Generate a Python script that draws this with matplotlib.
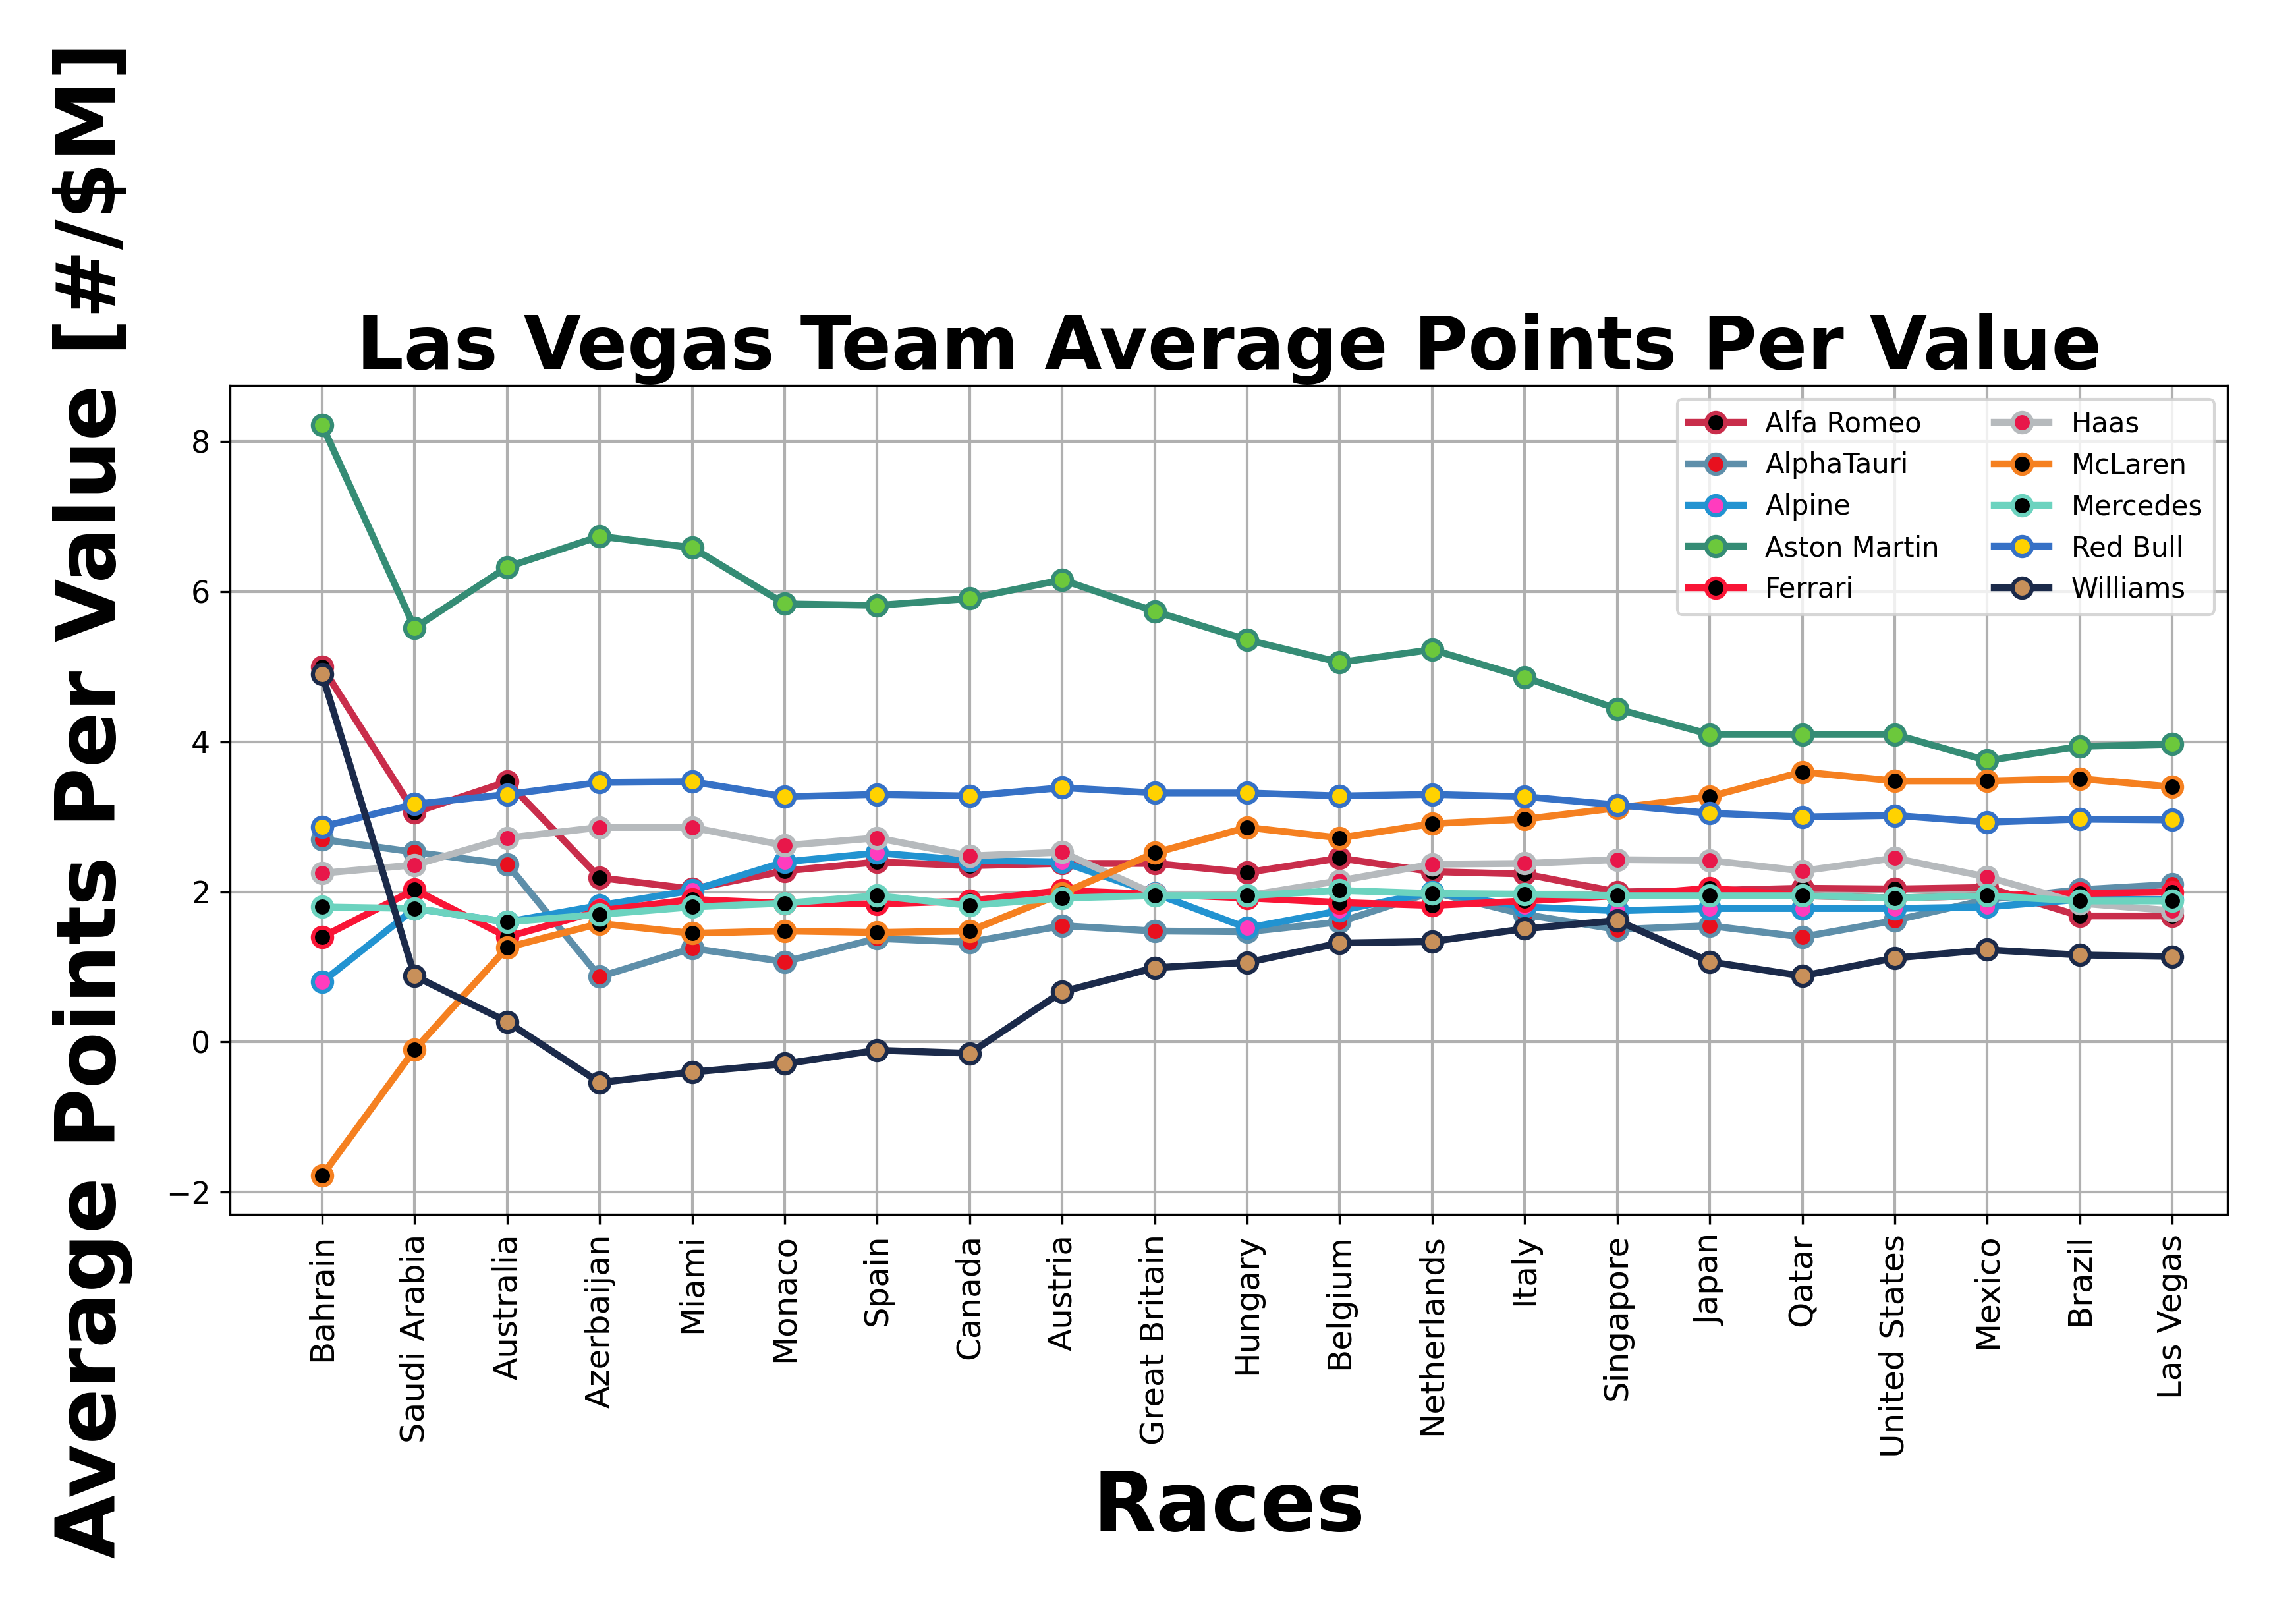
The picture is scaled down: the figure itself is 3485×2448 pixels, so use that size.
import matplotlib
matplotlib.use("Agg")
import matplotlib.pyplot as plt

races = ["Bahrain","Saudi Arabia","Australia","Azerbaijan","Miami","Monaco","Spain","Canada",
         "Austria","Great Britain","Hungary","Belgium","Netherlands","Italy","Singapore","Japan",
         "Qatar","United States","Mexico","Brazil","Las Vegas"]

alfa_romeo = [5.0,3.06,3.47,2.19,2.04,2.28,2.40,2.35,2.38,2.38,2.26,2.45,2.27,2.24,2.00,2.02,2.05,2.04,2.06,1.68,1.68]
alphatauri = [2.70,2.53,2.37,0.87,1.25,1.07,1.38,1.33,1.55,1.48,1.47,1.60,2.00,1.70,1.50,1.55,1.40,1.62,1.90,2.03,2.10]
alpine = [0.80,1.78,1.60,1.82,2.02,2.40,2.52,2.42,2.40,1.98,1.52,1.75,2.00,1.80,1.75,1.78,1.78,1.78,1.80,1.90,1.90]
aston_martin = [8.22,5.52,6.33,6.74,6.59,5.84,5.82,5.91,6.16,5.74,5.36,5.06,5.23,4.86,4.44,4.10,4.10,4.10,3.75,3.94,3.97]
ferrari = [1.40,2.03,1.40,1.75,1.90,1.85,1.84,1.88,2.02,1.97,1.92,1.86,1.82,1.88,1.95,2.05,1.95,1.92,1.95,1.98,2.00]
haas = [2.25,2.36,2.72,2.86,2.86,2.62,2.72,2.48,2.53,1.97,1.95,2.15,2.37,2.38,2.43,2.42,2.28,2.45,2.20,1.85,1.75]
mclaren = [-1.78,-0.10,1.26,1.58,1.45,1.48,1.46,1.48,1.98,2.52,2.86,2.72,2.91,2.97,3.12,3.27,3.60,3.48,3.48,3.51,3.40]
mercedes = [1.80,1.78,1.60,1.70,1.80,1.85,1.95,1.82,1.92,1.95,1.95,2.02,1.98,1.97,1.95,1.95,1.95,1.92,1.95,1.88,1.88]
red_bull = [2.87,3.17,3.30,3.46,3.47,3.27,3.30,3.28,3.39,3.32,3.32,3.28,3.30,3.27,3.16,3.05,3.00,3.02,2.93,2.97,2.96]
williams = [4.90,0.88,0.27,-0.54,-0.40,-0.29,-0.11,-0.15,0.67,0.99,1.06,1.32,1.34,1.51,1.62,1.07,0.88,1.12,1.23,1.16,1.14]

teams = ["Alfa Romeo","AlphaTauri","Alpine","Aston Martin","Ferrari","Haas","McLaren","Mercedes","Red Bull","Williams"]
values = [alfa_romeo,alphatauri,alpine,aston_martin,ferrari,haas,mclaren,mercedes,red_bull,williams]
line_colors = ["#C92D4B","#5E8FAA","#2293D1","#358C75","#F91536","#B6BABD","#F58020","#6CD3BF","#3671C6","#1B2A4A"]
face_colors = ["#000000","#E8101E","#FF3CBE","#6CC83C","#000000","#E8174A","#000000","#000000","#FFD200","#C8905A"]

fig = plt.figure(figsize=(3486/300, 2448/300), dpi=300)
ax = fig.add_axes([0.1, 0.247, 0.87, 0.514])
x = list(range(len(races)))
for t, v, lc, fc in zip(teams, values, line_colors, face_colors):
    ax.plot(x, v, color=lc, lw=2.5, marker="o", ms=7, mfc=fc, mec=lc, mew=1.5, label=t)
ax.set_xticks(x)
ax.set_xticklabels(races, rotation=90, fontsize=12)
ax.tick_params(axis="y", labelsize=11)
ax.set_yticks([-2, 0, 2, 4, 6, 8])
ax.set_xlim(-1, 20.6)
ax.set_ylim(-2.3, 8.75)
ax.grid(True, color="#b0b0b0", lw=1)
ax.set_axisbelow(True)
ax.set_title("Las Vegas Team Average Points Per Value", fontsize=27, fontweight="bold")
ax.set_xlabel("Races", fontsize=30, fontweight="bold")
ax.set_ylabel("Average Points Per Value [#/$M]", fontsize=30, fontweight="bold", labelpad=12)
ax.legend(ncol=2, fontsize=10, loc="upper right", framealpha=0.8)
fig.savefig("out.png", dpi=300)
